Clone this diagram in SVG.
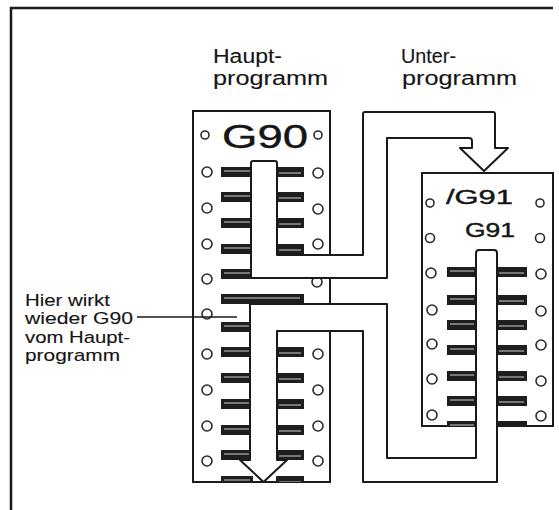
<svg xmlns="http://www.w3.org/2000/svg" width="559" height="510" viewBox="0 0 559 510">
  <defs>
    <style>
      .lbl { font-family: "Liberation Sans", Arial, sans-serif; fill: #151515; stroke: #151515; stroke-width: 0.12; }
      .big { stroke-width: 0.4; }
      .card { fill: #fff; stroke: #1a1a1a; stroke-width: 2; }
      .hole { fill: #fff; stroke: #2a2a2a; stroke-width: 1.6; }
      .bar { fill: #1e1e1e; }
      .streak { stroke: #cfcfcf; stroke-width: 1; }
      .pipe { fill: #fff; stroke: #1a1a1a; stroke-width: 2; stroke-linejoin: round; }
      .frame { fill: none; stroke: #1a1a1a; stroke-width: 2.5; }
    </style>
    <!-- one punched-tape block: dark bar with a light streak -->
    <g id="barL">
      <rect class="bar" x="221" y="-5" width="32" height="10"/>
      <line class="streak" x1="224" y1="-1" x2="250" y2="-1"/>
    </g>
    <g id="barR">
      <rect class="bar" x="276" y="-5" width="28" height="10"/>
      <line class="streak" x1="279" y1="1" x2="301" y2="1"/>
    </g>
    <g id="subBarL">
      <rect class="bar" x="447" y="-5" width="31" height="10"/>
      <line class="streak" x1="450" y1="-1" x2="474" y2="-1"/>
    </g>
    <g id="subBarR">
      <rect class="bar" x="496" y="-5" width="31" height="10"/>
      <line class="streak" x1="499" y1="1" x2="524" y2="1"/>
    </g>
    <clipPath id="mainClip"><rect x="193" y="111" width="137" height="371"/></clipPath>
    <clipPath id="subClip"><rect x="422" y="173" width="131" height="253"/></clipPath>
  </defs>

  <rect width="559" height="510" fill="#fff"/>

  <!-- outer frame -->
  <path class="frame" d="M11,510 L11,8 L553,8"/>

  <!-- column headings -->
  <g id="heading-main">
    <text class="lbl" x="213" y="63" font-size="20" textLength="69" lengthAdjust="spacingAndGlyphs">Haupt-</text>
    <text class="lbl" x="213" y="85" font-size="20" textLength="115" lengthAdjust="spacingAndGlyphs">programm</text>
  </g>
  <g id="heading-sub">
    <text class="lbl" x="401" y="63" font-size="20" textLength="55" lengthAdjust="spacingAndGlyphs">Unter-</text>
    <text class="lbl" x="402" y="85" font-size="20" textLength="115" lengthAdjust="spacingAndGlyphs">programm</text>
  </g>

  <!-- main program tape -->
  <g id="main-program">
    <rect class="card" x="193" y="111" width="137" height="371"/>
    <g clip-path="url(#mainClip)">
      <use href="#barL" y="172"/><use href="#barR" y="172"/>
      <use href="#barL" y="197"/><use href="#barR" y="197"/>
      <use href="#barL" y="223"/><use href="#barR" y="223"/>
      <use href="#barL" y="249"/><use href="#barR" y="249"/>
      <use href="#barL" y="274"/><use href="#barR" y="274"/>
      <rect class="bar" x="221" y="294" width="83" height="10"/>
      <line class="streak" x1="224" y1="298" x2="300" y2="298"/>
      <use href="#barL" y="327"/><use href="#barR" y="327"/>
      <use href="#barL" y="352"/><use href="#barR" y="352"/>
      <use href="#barL" y="378"/><use href="#barR" y="378"/>
      <use href="#barL" y="404"/><use href="#barR" y="404"/>
      <use href="#barL" y="430"/><use href="#barR" y="430"/>
      <use href="#barL" y="455"/><use href="#barR" y="455"/>
      <use href="#barL" y="481"/><use href="#barR" y="481"/>
    </g>
    <g class="holes">
      <circle class="hole" cx="205" cy="135" r="4"/><circle class="hole" cx="318" cy="135" r="4"/>
      <circle class="hole" cx="207" cy="172" r="5"/><circle class="hole" cx="318" cy="173" r="5"/>
      <circle class="hole" cx="207" cy="208" r="5"/><circle class="hole" cx="318" cy="209" r="5"/>
      <circle class="hole" cx="207" cy="244" r="5"/><circle class="hole" cx="318" cy="244" r="5"/>
      <circle class="hole" cx="207" cy="279" r="5"/><circle class="hole" cx="317" cy="282" r="5"/>
      <circle class="hole" cx="207" cy="314" r="5"/><circle class="hole" cx="318" cy="316" r="5"/>
      <circle class="hole" cx="207" cy="354" r="5"/><circle class="hole" cx="318" cy="354" r="5"/>
      <circle class="hole" cx="207" cy="390" r="5"/><circle class="hole" cx="318" cy="390" r="5"/>
      <circle class="hole" cx="207" cy="426" r="5"/><circle class="hole" cx="318" cy="426" r="5"/>
      <circle class="hole" cx="207" cy="461" r="5"/><circle class="hole" cx="318" cy="461" r="5"/>
    </g>
    <text class="lbl big" x="222" y="148" font-size="33" textLength="86" lengthAdjust="spacingAndGlyphs">G90</text>
  </g>

  <!-- subprogram tape -->
  <g id="sub-program">
    <rect class="card" x="422" y="173" width="131" height="253"/>
    <g clip-path="url(#subClip)">
      <use href="#subBarL" y="272"/><use href="#subBarR" y="272"/>
      <use href="#subBarL" y="300"/><use href="#subBarR" y="300"/>
      <use href="#subBarL" y="325"/><use href="#subBarR" y="325"/>
      <use href="#subBarL" y="350"/><use href="#subBarR" y="350"/>
      <use href="#subBarL" y="376"/><use href="#subBarR" y="376"/>
      <use href="#subBarL" y="401"/><use href="#subBarR" y="401"/>
      <use href="#subBarL" y="426"/><use href="#subBarR" y="426"/>
    </g>
    <g class="holes">
      <circle class="hole" cx="430" cy="203" r="4"/><circle class="hole" cx="540" cy="203" r="4"/>
      <circle class="hole" cx="430" cy="238" r="4.5"/><circle class="hole" cx="540" cy="238" r="4.5"/>
      <circle class="hole" cx="431" cy="273" r="5"/><circle class="hole" cx="541" cy="274" r="5"/>
      <circle class="hole" cx="432" cy="310" r="5"/><circle class="hole" cx="541" cy="311" r="5"/>
      <circle class="hole" cx="432" cy="344" r="5"/><circle class="hole" cx="541" cy="345" r="5"/>
      <circle class="hole" cx="432" cy="379" r="5"/><circle class="hole" cx="541" cy="381" r="5"/>
      <circle class="hole" cx="432" cy="415" r="5"/><circle class="hole" cx="541" cy="416" r="5"/>
    </g>
    <text class="lbl big" x="446" y="204" font-size="20" textLength="67" lengthAdjust="spacingAndGlyphs">/G91</text>
    <text class="lbl big" x="465" y="237" font-size="21" textLength="50" lengthAdjust="spacingAndGlyphs">G91</text>
  </g>

  <!-- program flow -->
  <g id="connectors">
    <!-- jump from main program into subprogram -->
    <path id="call" class="pipe" d="M251,278 L251,163 Q251,161 253,161 L275,161 Q277,161 277,163 L277,255 L363,255 L363,114 Q363,112 365,112 L493,112 Q495,112 495,114 L495,148 L508,148 L484,171 L460,148 L472,148 L472,141 Q472,138 469,138 L387,138 L387,278 Z"/>
    <!-- return from subprogram back to main program -->
    <path id="return" class="pipe" d="M476,458 L476,253 Q476,250 479,250 L494,250 Q497,250 497,253 L497,482 L363,482 L363,331 L277,331 L277,460 L287,460 L263.5,482 L240,460 L250,460 L250,304 L387,304 L387,458 Z"/>
    <!-- annotation leader -->
    <line x1="137" y1="317" x2="237" y2="317" stroke="#1a1a1a" stroke-width="1.4"/>
  </g>

  <g id="note">
    <text class="lbl" x="25" y="306" font-size="17" textLength="85" lengthAdjust="spacingAndGlyphs">Hier wirkt</text>
    <text class="lbl" x="25" y="324" font-size="17" textLength="108" lengthAdjust="spacingAndGlyphs">wieder G90</text>
    <text class="lbl" x="25" y="343" font-size="17" textLength="105" lengthAdjust="spacingAndGlyphs">vom Haupt-</text>
    <text class="lbl" x="25" y="361" font-size="17" textLength="95" lengthAdjust="spacingAndGlyphs">programm</text>
  </g>
</svg>
